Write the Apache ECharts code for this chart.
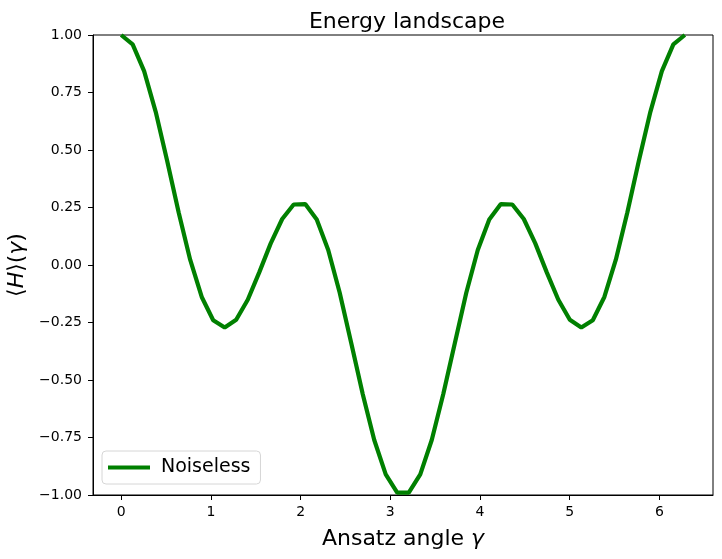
<!DOCTYPE html>
<html>
<head>
<meta charset="utf-8">
<script src="https://cdn.jsdelivr.net/npm/echarts@6/dist/echarts.min.js"></script>
<style>
  html, body { margin: 0; padding: 0; background: #fff; }
  #chart { width: 722px; height: 559px; }
</style>
</head>
<body>
<div id="chart"></div>
<script>
// ansatz angle samples (0 .. 2π)
const gammaValues = [
  0, 0.128, 0.256, 0.385, 0.513, 0.641, 0.769, 0.898, 1.026, 1.154,
  1.282, 1.411, 1.539, 1.667, 1.795, 1.923, 2.052, 2.180, 2.308, 2.436,
  2.565, 2.693, 2.821, 2.949, 3.077, 3.206, 3.334, 3.462, 3.590, 3.719,
  3.847, 3.975, 4.103, 4.232, 4.360, 4.488, 4.616, 4.744, 4.873, 5.001,
  5.129, 5.257, 5.386, 5.514, 5.642, 5.770, 5.899, 6.027, 6.155, 6.283
]
// expectation value
const noiseless = [
  1.000, 0.959, 0.843, 0.666, 0.452, 0.228, 0.023, -0.139, -0.240, -0.272,
  -0.238, -0.151, -0.032, 0.094, 0.200, 0.263, 0.265, 0.198, 0.065, -0.121,
  -0.340, -0.562, -0.761, -0.910, -0.990, -0.990, -0.910, -0.761, -0.562, -0.340,
  -0.121, 0.065, 0.198, 0.265, 0.263, 0.200, 0.094, -0.032, -0.151, -0.238,
  -0.272, -0.240, -0.139, 0.023, 0.228, 0.452, 0.666, 0.843, 0.959, 1.000
]
const xTicks = [0, 1, 2, 3, 4, 5, 6]

const font = 'DejaVu Sans'
const chart = echarts.init(document.getElementById('chart'))

chart.setOption({
  animation: false,
  textStyle: { fontFamily: font, color: '#000' },
  title: {
    text: 'Energy landscape',
    left: 402, top: 6, textAlign: 'center',
    textStyle: { fontFamily: font, fontSize: 22, fontWeight: 'normal', color: '#000' },
  },
  grid: {
    left: 93, right: 9, top: 35, bottom: 64,
    outerBoundsMode: 'none', containLabel: false,
    show: true, borderColor: '#000', borderWidth: 1,
  },
  legend: {
    data: ['Noiseless'],
    left: 102, top: 451,
    icon: 'rect', itemWidth: 42, itemHeight: 4, itemGap: 10,
    padding: [7, 10, 7, 6],
    borderColor: '#d6d6d6', borderWidth: 1, borderRadius: 4,
    backgroundColor: 'rgba(255,255,255,0.8)',
    textStyle: { fontFamily: font, fontSize: 19, color: '#000', padding: [0, 0, 0, 6] },
  },
  xAxis: {
    type: 'value',
    min: -0.314, max: 6.597,
    name: '{n|Ansatz angle }{i|γ}',
    nameLocation: 'middle', nameGap: 33,
    nameTextStyle: {
      rich: {
        n: { fontFamily: font, fontSize: 22, color: '#000' },
        i: { fontFamily: font, fontSize: 22, fontStyle: 'italic', color: '#000' },
      },
    },
    splitLine: { show: false },
    axisLine: { show: true, onZero: false, lineStyle: { color: '#000', width: 1 } },
    axisTick: { show: true, length: 5, customValues: xTicks, lineStyle: { color: '#000' } },
    axisLabel: { customValues: xTicks, fontSize: 14, color: '#000', margin: 10, fontFamily: font },
  },
  yAxis: {
    type: 'value',
    min: -1, max: 1, interval: 0.25,
    name: '{n|⟨}{i|H}{n|⟩(}{i|γ}{n|)}',
    nameLocation: 'middle', nameGap: 56, nameRotate: 90,
    nameTextStyle: {
      rich: {
        n: { fontFamily: font, fontSize: 22, color: '#000' },
        i: { fontFamily: font, fontSize: 22, fontStyle: 'italic', color: '#000' },
      },
    },
    splitLine: { show: false },
    axisLine: { show: true, onZero: false, lineStyle: { color: '#000', width: 1 } },
    axisTick: { show: true, length: 5, lineStyle: { color: '#000' } },
    axisLabel: {
      fontSize: 14, color: '#000', margin: 11, fontFamily: font,
      formatter: (v) => v.toFixed(2).replace('-', '\u2212'),
    },
  },
  series: [
    {
      name: 'Noiseless',
      type: 'line',
      data: gammaValues.map((g, i) => [g, noiseless[i]]),
      showSymbol: false,
      symbol: 'none',
      clip: true,
      lineStyle: { color: '#008000', width: 4.2 },
      itemStyle: { color: '#008000' },
    },
  ],
})
</script>
</body>
</html>
